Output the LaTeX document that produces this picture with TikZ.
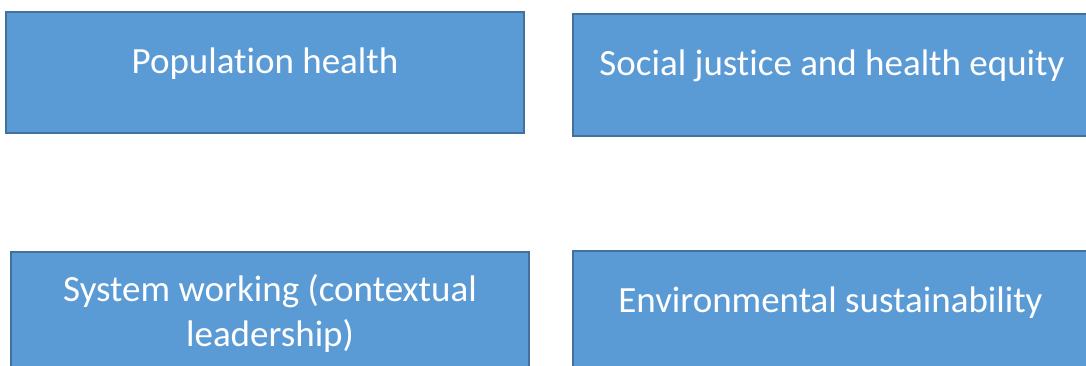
\documentclass[tikz,border=0pt]{standalone}
\usepackage{fontspec}
\setmainfont{Carlito}[Ligatures=NoCommon]
\usepackage{tikz}
\usetikzlibrary{positioning}
\definecolor{boxfill}{HTML}{5B9BD5}
\definecolor{boxline}{HTML}{41719C}

\begin{document}
\begin{tikzpicture}[x=1pt,y=1pt,
  topic/.style={draw=boxline, fill=boxfill, line width=2.5pt, minimum width=518, minimum height=121, inner sep=0pt},
  topictext/.style={text=white, font=\fontsize{37}{45}\selectfont, align=center, inner sep=0pt}]
\clip (0,0) rectangle (1086,-365);
\fill[white] (0,0) rectangle (1086,-365);
% top row
\node[topic] (pop) at (265,-72.5) {};
\node[topic, minimum width=515, minimum height=122] (soc) at (830.5,-75) {};
% bottom row
\node[topic] (sys) at (270,-312.5) {};
\node[topic, minimum width=515] (env) at (830.5,-311.5) {};
% texts
\node[topictext] (poptext) at ([yshift=9]pop.center) {Population health};
\node[topictext] (soctext) at ([xshift=1.5,yshift=9]soc.center) {Social justice and health equity};
\node[topictext] (systext) at ([yshift=-1]sys.center) {System working (contextual\\leadership)};
\node[topictext] (envtext) at ([yshift=9]env.center) {Environmental sustainability};
\end{tikzpicture}
\end{document}
